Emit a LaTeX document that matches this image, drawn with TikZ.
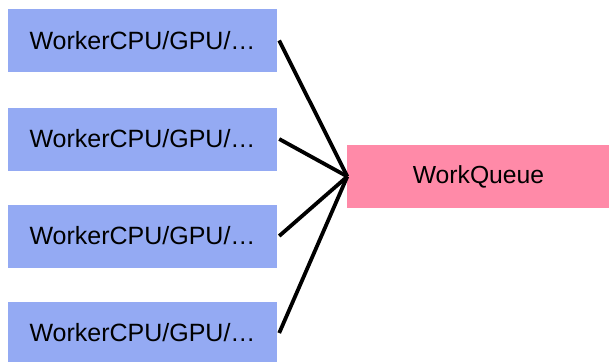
\documentclass[tikz,border=0pt]{standalone}
\usepackage{fontspec}
\setmainfont{Liberation Sans}
\definecolor{workerblue}{HTML}{94AAF3}
\definecolor{queuepink}{HTML}{FF8AA8}
\begin{document}
\begin{tikzpicture}[x=1pt,y=-1pt,
  worker/.style={fill=workerblue, draw=none, minimum width=269pt, minimum height=63pt,
    inner sep=0pt, font=\fontsize{25}{29}\selectfont},
  queue/.style={fill=queuepink, draw=none, minimum width=263pt, minimum height=63pt,
    inner sep=0pt, font=\fontsize{24.7}{29}\selectfont},
  link/.style={line width=3.8pt, black}]
  \useasboundingbox (0,0) rectangle (609,361);
  \clip (0,0) rectangle (609,361);
  \node[worker] (w1) at (142.5,40.5) {WorkerCPU/GPU/…};
  \node[worker] (w2) at (142.5,139) {WorkerCPU/GPU/…};
  \node[worker] (w3) at (142.5,236) {WorkerCPU/GPU/…};
  \node[worker] (w4) at (142.5,333) {WorkerCPU/GPU/…};
  \node[queue] (q) at (478.5,176.5) {WorkQueue};
  \coordinate (qin) at ([xshift=0.5pt]q.west);
  \foreach \w in {w1,w2,w3,w4}
    \draw[link] ([xshift=2pt]\w.east) -- (qin);
\end{tikzpicture}
\end{document}
